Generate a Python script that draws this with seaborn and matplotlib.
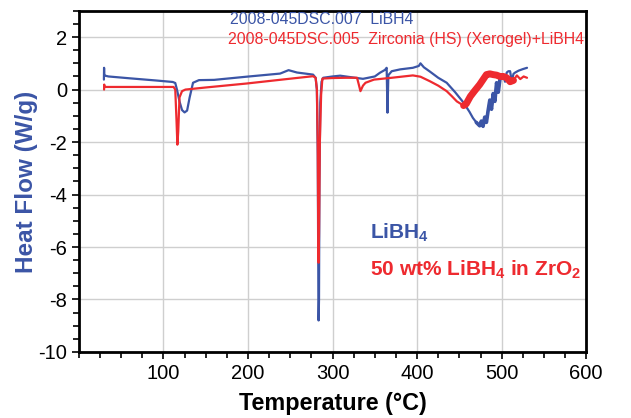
import matplotlib
matplotlib.use("Agg")
import matplotlib.pyplot as plt
from matplotlib.ticker import MultipleLocator
import seaborn as sns
import pandas as pd

# LiBH4 (blue) trace
blue_T = [29.6, 29.8, 30.0, 31, 35, 60, 90, 111, 114, 116, 119, 122, 125, 128, 131, 135, 142,
          160, 198, 238, 248, 258, 270, 277, 280, 281.5, 282.5, 283, 283.5, 284, 284.5, 285.5,
          287, 289, 300, 309, 320, 336, 350, 356, 362, 364, 365, 366, 370, 380, 395, 402, 404,
          408, 415, 425, 435, 445, 455, 462, 466, 470, 474, 476, 478, 480, 482, 484, 486, 488,
          490, 492, 494, 496, 498, 500, 502, 504, 506, 508, 510, 512, 514, 516, 520, 525, 530]
blue_H = [0.38, 0.83, 0.55, 0.53, 0.5, 0.43, 0.35, 0.29, 0.25, 0.0, -0.45, -0.78, -0.87, -0.8, -0.3, 0.26, 0.36,
          0.37, 0.49, 0.61, 0.74, 0.65, 0.6, 0.57, 0.45, 0.0, -2.5, -6.0, -8.8, -8.0, -3.5, -0.5,
          0.3, 0.45, 0.5, 0.53, 0.48, 0.41, 0.5, 0.64, 0.75, 0.83, -0.88, 0.55, 0.7, 0.77, 0.83, 0.9, 1.0,
          0.85, 0.69, 0.45, 0.26, -0.1, -0.5, -0.85, -1.08, -1.25, -1.38, -1.2, -1.4, -1.05, -1.25, -0.8, -0.4, -0.75,
          -0.15, -0.45, 0.26, -0.1, 0.4, 0.45, 0.57, 0.3, 0.65, 0.7, 0.7, 0.3, 0.6, 0.65, 0.72, 0.78, 0.83]

# 50 wt% LiBH4 in ZrO2 (red) trace
red_T = [29.8, 30.0, 30.2, 35, 60, 90, 112, 114, 115.5, 116.5, 117.5, 119, 122, 126, 150, 198,
         240, 277, 280, 281.5, 282.5, 283, 283.5, 284, 285, 286.5, 288, 300, 315, 329, 331,
         333, 336, 339, 349, 370, 395, 404, 415, 425, 435, 441, 447, 455, 458, 463, 468, 474,
         478, 482, 486, 490, 494, 498, 502, 506, 510, 514, 518, 522, 526, 530]
red_H = [0.0, 0.19, 0.1, 0.1, 0.1, 0.1, 0.1, 0.0, -1.2, -2.1, -1.6, -0.3, -0.06, 0.0, 0.08, 0.23,
         0.38, 0.51, 0.45, 0.0, -2.0, -5.0, -6.6, -5.5, -2.0, -0.2, 0.42, 0.44, 0.45, 0.45, 0.2,
         -0.06, 0.15, 0.26, 0.38, 0.45, 0.54, 0.49, 0.32, 0.15, -0.06, -0.25, -0.45, -0.61, -0.55, -0.26, -0.05, 0.19,
         0.38, 0.57, 0.6, 0.57, 0.55, 0.5, 0.5, 0.45, 0.3, 0.35, 0.54, 0.4, 0.5, 0.45]

# noisy band sections (drawn thicker)
band_lo, band_hi = 455, 515
blue_band_lo, blue_band_hi = 468, 500

blue_col = "#3b55a6"
red_col = "#ee2a2f"
grid_col = "#cfcfcf"

sns.set_theme(style="white")
plt.rcParams['font.family'] = ['Liberation Sans', 'DejaVu Sans']
plt.rcParams['axes.unicode_minus'] = False
plt.rcParams['mathtext.fontset'] = 'custom'
plt.rcParams['mathtext.rm'] = 'Liberation Sans'
plt.rcParams['mathtext.bf'] = 'Liberation Sans:bold'

blue_df = pd.DataFrame({"T": blue_T, "H": blue_H})
red_df = pd.DataFrame({"T": red_T, "H": red_H})

fig = plt.figure(figsize=(6.31, 4.18), dpi=100)
ax = fig.add_axes([0.125, 0.158, 0.804, 0.816])

sns.lineplot(data=blue_df, x="T", y="H", color=blue_col, lw=1.6, sort=False, ax=ax)
sns.lineplot(data=blue_df[(blue_df["T"] >= blue_band_lo) & (blue_df["T"] <= blue_band_hi)],
             x="T", y="H", color=blue_col, lw=2.6, sort=False, ax=ax)
sns.lineplot(data=red_df, x="T", y="H", color=red_col, lw=1.6, sort=False, ax=ax)
sns.lineplot(data=red_df[(red_df["T"] >= band_lo) & (red_df["T"] <= band_hi)],
             x="T", y="H", color=red_col, lw=5.0, sort=False, ax=ax)

ax.set_xlim(0, 600)
ax.set_ylim(-10, 3)
ax.xaxis.set_minor_locator(MultipleLocator(25))
ax.yaxis.set_major_locator(MultipleLocator(2))
ax.yaxis.set_minor_locator(MultipleLocator(0.5))
ax.set_xticks([100, 200, 300, 400, 500, 600])
ax.grid(True, which="major", color=grid_col, lw=1)
ax.set_axisbelow(True)

for s in ax.spines.values():
    s.set_color("black")
    s.set_linewidth(2)

ax.tick_params(which="both", direction="out", color="black", width=1.2,
               bottom=True, left=True, labelsize=14.5, labelcolor="black")
ax.tick_params(which="major", length=5)
ax.tick_params(which="minor", length=4)

ax.set_xlabel("Temperature (°C)", fontsize=16.8, fontweight="bold", color="black", labelpad=7)
ax.set_ylabel("Heat Flow (W/g)", fontsize=17.5, fontweight="bold", color=blue_col, labelpad=0)

ax.text(179, 2.68, "2008-045DSC.007  LiBH4", color=blue_col, fontsize=11.4, va="center", ha="left")
ax.text(176, 1.91, "2008-045DSC.005  Zirconia (HS) (Xerogel)+LiBH4", color=red_col,
        fontsize=11.4, va="center", ha="left")

ax.text(344, -5.47, r"LiBH$_\mathbf{4}$", color=blue_col, fontsize=15, fontweight="bold",
        va="center", ha="left")
ax.text(344, -6.88, r"50 wt% LiBH$_\mathbf{4}$ in ZrO$_\mathbf{2}$", color=red_col, fontsize=15,
        fontweight="bold", va="center", ha="left")

fig.savefig("out.png", dpi=100)
